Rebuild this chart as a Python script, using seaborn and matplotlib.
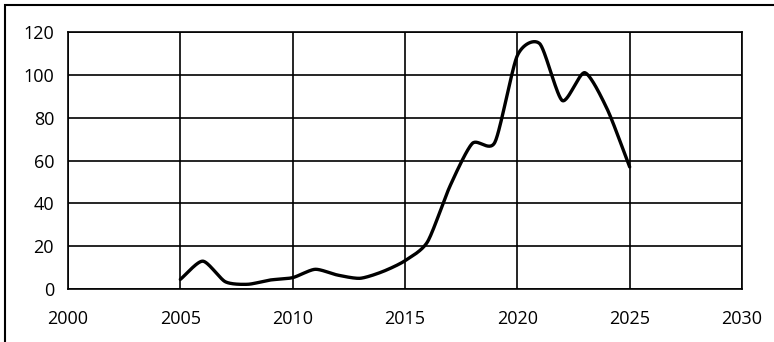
import numpy as np
import pandas as pd
import matplotlib
matplotlib.use("Agg")
import matplotlib.pyplot as plt
import seaborn as sns
from matplotlib.patches import Rectangle

years = [2005, 2006, 2007, 2008, 2009, 2010, 2011, 2012, 2013, 2014, 2015,
         2016, 2017, 2018, 2019, 2020, 2021, 2022, 2023, 2024, 2025]
values = [4.5, 13, 3.4, 2.2, 4.2, 5.3, 9.2, 6.5, 5, 8.1, 13.2,
          22, 48, 68, 68.5, 109, 114.5, 88, 101, 84, 57]
x_ticks = [2000, 2005, 2010, 2015, 2020, 2025, 2030]
y_ticks = [0, 20, 40, 60, 80, 100, 120]


def smooth(xs, ys, n=30, k=0.36):
    # cardinal spline through the data points (like a spreadsheet "smoothed line")
    xs = np.asarray(xs, float)
    ys = np.asarray(ys, float)
    px = np.concatenate([[2 * xs[0] - xs[1]], xs, [2 * xs[-1] - xs[-2]]])
    py = np.concatenate([[2 * ys[0] - ys[1]], ys, [2 * ys[-1] - ys[-2]]])
    ox, oy = [], []
    t = np.linspace(0, 1, n, endpoint=False)
    h00 = 2 * t ** 3 - 3 * t ** 2 + 1
    h10 = t ** 3 - 2 * t ** 2 + t
    h01 = -2 * t ** 3 + 3 * t ** 2
    h11 = t ** 3 - t ** 2
    for i in range(1, len(px) - 2):
        for arr, out in ((px, ox), (py, oy)):
            p0, p1, p2, p3 = arr[i - 1], arr[i], arr[i + 1], arr[i + 2]
            m1 = k * (p2 - p0)
            m2 = k * (p3 - p1)
            out.extend(h00 * p1 + h10 * m1 + h01 * p2 + h11 * m2)
    ox.append(xs[-1])
    oy.append(ys[-1])
    return np.array(ox), np.array(oy)


sx, sy = smooth(years, values)
df = pd.DataFrame({"year": sx, "value": sy})

sns.set_theme(style="white")
plt.rcParams["font.family"] = ["Open Sans", "DejaVu Sans"]

fig = plt.figure(figsize=(7.74, 3.42), dpi=100)
fig.patch.set_facecolor("white")
ax = fig.add_axes([68 / 774, 53 / 342, 674 / 774, 257 / 342])

sns.lineplot(data=df, x="year", y="value", ax=ax, color="black",
             linewidth=2.4, sort=False, estimator=None)

ax.set_xlim(2000, 2030)
ax.set_ylim(0, 120)
ax.set_xticks(x_ticks)
ax.set_yticks(y_ticks)
ax.set_xticklabels([str(v) for v in x_ticks])
ax.set_yticklabels([str(v) for v in y_ticks])
ax.grid(True, color="black", linewidth=1.2)
ax.set_axisbelow(True)
for s in ax.spines.values():
    s.set_visible(True)
    s.set_color("black")
    s.set_linewidth(1.2)
ax.tick_params(axis="both", length=0, labelsize=13, colors="black")
ax.tick_params(axis="y", pad=10)
ax.tick_params(axis="x", pad=15)
ax.set_xlabel("")
ax.set_ylabel("")

fig.patches.append(Rectangle((5 / 774, -0.1), 1.2, (337 / 342) + 0.1,
                             transform=fig.transFigure, fill=False,
                             edgecolor="black", linewidth=1.5))

fig.savefig("out.png", dpi=100, facecolor="white")
